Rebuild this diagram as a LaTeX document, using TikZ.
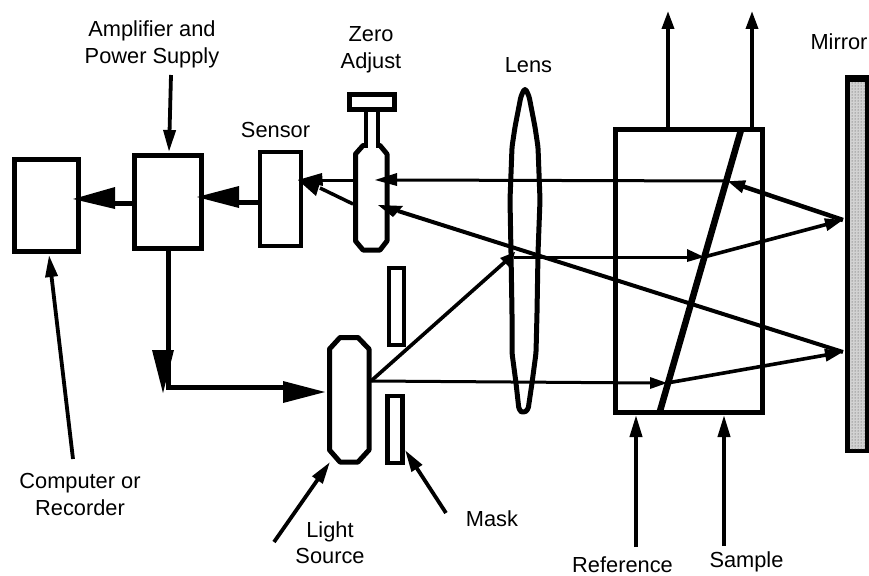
\documentclass[tikz,border=0pt]{standalone}
\usepackage{fontspec}
\setmainfont{Liberation Sans}
\usetikzlibrary{arrows.meta,patterns}
\tikzset{
  blk/.style={draw,line width=5pt,fill=white,inner sep=0pt,minimum width=#1},
  lbl/.style={align=center,font=\fontsize{21.8}{26.5}\selectfont,inner sep=0pt},
  lblb/.style={lbl,anchor=base},
  ray/.style={line width=3pt,-{Triangle[length=18pt,width=12pt]}},
  rayb/.style={line width=4.5pt,-{Triangle[length=18pt,width=12pt]}},
  rayc/.style={line width=3.6pt,-{Triangle[length=18pt,width=12pt]}},
  plain/.style={line width=3pt},
  ctrl/.style={line width=5pt},
  call/.style={line width=3.8pt,-{Triangle[length=22pt,width=12pt]}},
  outl/.style={draw,line width=5pt,line join=round}
}
\begin{document}
\begin{tikzpicture}[x=1pt,y=-1pt]
\useasboundingbox (0,0) rectangle (869,575);
% anchor coordinates
\coordinate (P1) at (514,257);
\coordinate (P2) at (704,257);
\coordinate (P3) at (843,220);
\coordinate (P4) at (727,181);
\coordinate (P5) at (667,383);
\coordinate (P6) at (843,352);
\coordinate (SrcOut) at (371,381);
\coordinate (ZA) at (375,180);
\coordinate (ZB) at (378,205);
\coordinate (SenIn) at (298,180);
\coordinate (CapL1) at (353,180);
\coordinate (CapL2) at (353,204);
\coordinate (Corner) at (168,387);
\coordinate (Up1s) at (668,129);
\coordinate (Up1e) at (668,11);
\coordinate (Up2s) at (752,129);
\coordinate (Up2e) at (752,11);
% mirror
\fill[black] (845,75) rectangle (869,453);
\fill[gray!35] (850,82) rectangle (865,449);
\path[pattern=dots,pattern color=black!75] (850,82) rectangle (865,449);
\node[minimum width=24pt,minimum height=378pt,inner sep=0pt] (mirror) at (857,264) {};
% cell
\node[blk=147.5pt,minimum height=282.5pt,fill=none] (cell) at (688.75,270.75) {};
\draw[line width=6.5pt] (741,130) coordinate (D1) -- (660,411) coordinate (D2);
% lens
\draw[outl,fill=none,rounded corners=3pt] (525,88) -- (529,96) -- (535,127) -- (538,147) -- (540,200) -- (538,253) -- (537,313) -- (536,353)
  -- (532,383) -- (528,410) -- (523,413) -- (519,410) -- (516,383) -- (512,353) -- (512,313) -- (511,253)
  -- (510,200) -- (512,147) -- (515,127) -- (521,96) -- cycle;
\coordinate (lens) at (525,250);
% zero adjust
\node[blk=45pt,minimum height=15.5pt] (knob) at (372,102.2) {};
\draw[line width=3.5pt] (366,112) -- (366,148) (378,112) -- (378,148);
\draw[outl] (364,145.5) -- (363,145.5) -- (355.5,154) -- (355.5,241) -- (363,250) -- (380,250) -- (387,241) -- (387,154) -- (380,145.5) -- (379,145.5);
\coordinate (zero) at (371,197);
% source
\draw[outl,fill=white] (340,337.5) -- (358,337.5) -- (369,349) -- (369,450) -- (358,462) -- (340,462) -- (329.5,450) -- (329.5,349) -- cycle;
\coordinate (source) at (349,400);
% masks
\node[blk=15pt,minimum height=77pt,line width=4.4pt] (maskA) at (396.5,306.5) {};
\node[blk=15pt,minimum height=67pt,line width=4.4pt] (maskB) at (395,429.5) {};
% boxes
\node[blk=64pt,minimum height=92pt] (computer) at (46.5,205.5) {};
\node[blk=67pt,minimum height=93pt] (amp) at (168,202) {};
\node[blk=41pt,minimum height=94pt,line width=4.4pt] (sensor) at (280.5,199) {};
% rays
\draw[plain] (P4) -- (397,180);
\fill (ZA) -- (397,173) -- (397,186) -- cycle;
\draw[line width=4pt] (P6) -- (398,211);
\fill (ZB) -- (403,206) -- (393,217) -- cycle;
\draw[line width=3.6pt] (SrcOut) -- (506,261);
\fill (515,252) -- (500,258) -- (510,268) -- cycle;
\draw[plain] (P1) -- (690,257);
\fill (P2) -- (687,249) -- (687,262) -- cycle;
\draw[rayc] (P2) -- (P3);
\draw[rayb] (P3) -- (P4);
\draw[plain] (SrcOut) -- (652,383);
\fill (P5) -- (650,377) -- (650,389) -- cycle;
\draw[rayc] (P5) -- (P6);
\draw[ray,line width=3.6pt] (Up1s) -- (Up1e);
\draw[ray,line width=3.6pt] (Up2s) -- (Up2e);
% sensor side
\draw[line width=3pt] (CapL1) -- (322,180);
\fill (SenIn) -- (322,173) -- (323,186) -- cycle;
\draw[line width=3.5pt] (CapL2) -- (320,188);
\fill (SenIn) -- (322,176) -- (316,196) -- cycle;
% control path
\draw[ctrl] (sensor.west |- 0,202) -- (238,202);
\fill (197,197) -- (239,186) -- (239,208) -- cycle;
\draw[ctrl] (amp.west |- 0,203) -- (114,203);
\fill (73,199) -- (115,187) -- (115,209) -- cycle;
\draw[ctrl] (amp.south -| Corner) -- (Corner) -- (285,387);
\fill (163,393) -- (152,350) -- (174,350) -- cycle;
\fill (325,392) -- (283,381) -- (283,403) -- cycle;
% labels
\node[lbl] (lAmp) at (152,44.5) {Amplifier and\\Power Supply};
\node[lbl] (lZero) at (371,50) {Zero\\Adjust};
\node[lblb] (lLens) at (528.5,73) {Lens};
\node[lblb] (lMirror) at (839,50) {Mirror};
\node[lblb] (lSensor) at (275.5,137) {Sensor};
\node[lbl] (lComp) at (80,494.6) {Computer or\\Recorder};
\node[lbl] (lLight) at (330,542.5) {Light\\Source};
\node[lblb] (lMask) at (492,526) {Mask};
\node[lblb] (lRef) at (622.5,572) {Reference};
\node[lblb] (lSample) at (746.5,567) {Sample};
\coordinate (cA) at (171,75);
\coordinate (cAe) at (169,152);
\coordinate (cB) at (73,459);
\coordinate (cBe) at (49,255);
\coordinate (cC) at (274,542);
\coordinate (cCe) at (330,462);
\coordinate (cD) at (446,513);
\coordinate (cDe) at (405,450);
\coordinate (cE) at (636,547);
\coordinate (cEe) at (636,415);
\coordinate (cF) at (724,546);
\coordinate (cFe) at (724,415);
\draw[call] (cA) -- (cAe);
\draw[call] (cB) -- (cBe);
\draw[call] (cC) -- (cCe);
\draw[call] (cD) -- (cDe);
\draw[call] (cE) -- (cEe);
\draw[call] (cF) -- (cFe);
\end{tikzpicture}
\end{document}
